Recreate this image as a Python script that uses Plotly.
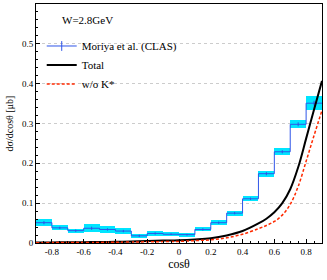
import plotly.graph_objects as go

# ---- data ----
cos_centers = [-0.85, -0.75, -0.65, -0.55, -0.45, -0.35, -0.25, -0.15, -0.05,
               0.05, 0.15, 0.25, 0.35, 0.45, 0.55, 0.65, 0.75, 0.85]
clas_vals = [0.051, 0.038, 0.031, 0.037, 0.034, 0.030, 0.018, 0.024, 0.022,
             0.021, 0.034, 0.051, 0.075, 0.111, 0.174, 0.229, 0.298, 0.351]
clas_band = [0.009, 0.006, 0.005, 0.010, 0.008, 0.007, 0.005, 0.006, 0.005,
             0.005, 0.005, 0.006, 0.006, 0.006, 0.008, 0.009, 0.010, 0.018]
clas_err = [0.004, 0.003, 0.003, 0.004, 0.003, 0.003, 0.003, 0.003, 0.002,
            0.002, 0.003, 0.003, 0.003, 0.003, 0.004, 0.004, 0.005, 0.006]
bin_width = 0.1

curve_cos = [-0.9, -0.8, -0.7, -0.6, -0.5, -0.4, -0.3, -0.2, -0.1, 0.0, 0.1, 0.2,
             0.3, 0.4, 0.5, 0.55, 0.6, 0.65, 0.7, 0.75, 0.8, 0.85, 0.9]
total_vals = [0.001, 0.0015, 0.002, 0.002, 0.0025, 0.003, 0.004, 0.005, 0.006, 0.007,
              0.009, 0.012, 0.019, 0.030, 0.049, 0.061, 0.077, 0.100, 0.135,
              0.190, 0.262, 0.335, 0.407]
wok_vals = [0.0005, 0.001, 0.001, 0.0015, 0.0015, 0.002, 0.0025, 0.003, 0.0035, 0.004,
            0.006, 0.008, 0.013, 0.022, 0.036, 0.044, 0.054, 0.070, 0.097,
            0.142, 0.205, 0.270, 0.333]

x_tickvals = [-0.8, -0.6, -0.4, -0.2, 0, 0.2, 0.4, 0.6, 0.8]
x_ticktext = ["-0.8", "-0.6", "-0.4", "-0.2", "0", "0.2", "0.4", "0.6", "0.8"]
y_tickvals = [0, 0.1, 0.2, 0.3, 0.4, 0.5, 0.6]
y_ticktext = ["0", "0.1", "0.2", "0.3", "0.4", "0.5", "0.6"]

FONT = "Liberation Serif"
BLUE = "#2f55e8"
CYAN = "#00e5ff"

fig = go.Figure()

# error boxes
fig.add_trace(go.Bar(
    x=cos_centers,
    y=[2 * e for e in clas_band],
    base=[v - e for v, e in zip(clas_vals, clas_band)],
    width=bin_width,
    marker=dict(color=CYAN, line=dict(width=0)),
    showlegend=False, hoverinfo="skip",
))

# step histogram
step_x = [c - bin_width / 2 for c in cos_centers] + [cos_centers[-1] + bin_width / 2]
step_y = clas_vals + [clas_vals[-1]]
fig.add_trace(go.Scatter(
    x=step_x, y=step_y, mode="lines", line=dict(color=BLUE, width=1, shape="hv"),
    showlegend=False,
))

# error bars at centers
fig.add_trace(go.Scatter(
    x=cos_centers, y=clas_vals, mode="markers",
    marker=dict(size=1, color=BLUE),
    error_y=dict(type="data", array=clas_err, color=BLUE, thickness=1, width=0),
    showlegend=False,
))

# legend proxy for data
fig.add_trace(go.Scatter(
    x=[None], y=[None], mode="lines+markers",
    line=dict(color=BLUE, width=1),
    marker=dict(symbol="line-ns-open", size=7, color=BLUE, line=dict(color=BLUE, width=1)),
    name="Moriya et al. (CLAS)",
))

fig.add_trace(go.Scatter(
    x=curve_cos, y=total_vals, mode="lines", line=dict(color="black", width=2, shape="spline"),
    name="Total",
))
fig.add_trace(go.Scatter(
    x=curve_cos, y=wok_vals, mode="lines",
    line=dict(color="#ff2a00", width=1.5, dash="3px,2px", shape="spline"),
    name="w/o K*",
))

fig.update_layout(
    width=327, height=280,
    margin=dict(l=36, r=5, t=4, b=37),
    paper_bgcolor="white", plot_bgcolor="white",
    font=dict(family=FONT, color="black", size=10),
    bargap=0,
    showlegend=True,
    legend=dict(
        x=0.02, y=0.885, xanchor="left", yanchor="top",
        bgcolor="rgba(0,0,0,0)", font=dict(family=FONT, size=11),
        itemwidth=30, tracegroupgap=0,
    ),
    annotations=[dict(
        text="W=2.8GeV", xref="paper", yref="paper", x=0.085, y=0.935,
        xanchor="left", yanchor="middle", showarrow=False,
        font=dict(family=FONT, size=11),
    )],
)

fig.update_xaxes(
    range=[-0.9, 0.9], tickmode="array", tickvals=x_tickvals, ticktext=x_ticktext,
    ticks="inside", ticklen=4, tickcolor="black", showline=True, linecolor="black",
    linewidth=1, mirror=True, showgrid=False, zeroline=False,
    tickfont=dict(family=FONT, size=9),
    minor=dict(dtick=0.05, ticks="inside", ticklen=2, tickcolor="black", showgrid=False),
    title=dict(text="cosθ", font=dict(family=FONT, size=12), standoff=2),
)
fig.update_yaxes(
    range=[0, 0.6], tickmode="array", tickvals=y_tickvals, ticktext=y_ticktext,
    ticks="inside", ticklen=4, tickcolor="black", showline=True, linecolor="black",
    linewidth=1, mirror=True, showgrid=True, gridcolor="#cccccc", griddash="dot",
    gridwidth=1, zeroline=False,
    tickfont=dict(family=FONT, size=9),
    minor=dict(dtick=0.02, ticks="inside", ticklen=2, tickcolor="black", showgrid=False),
    title=dict(text="dσ/dcosθ [μb]", font=dict(family=FONT, size=10), standoff=6),
)

fig.write_html("out.html", config={"displayModeBar": False},
               post_script="document.body.style.margin='0';")
